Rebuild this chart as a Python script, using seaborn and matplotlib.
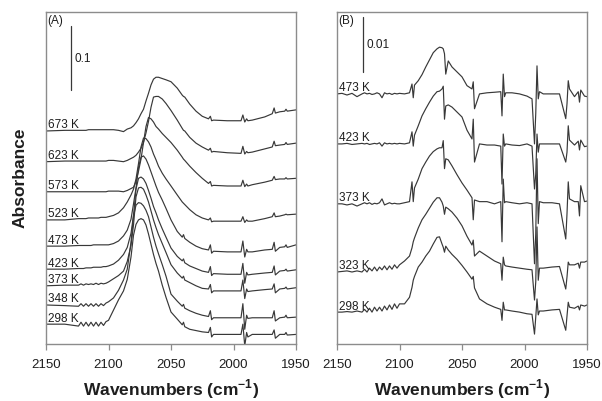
import matplotlib
matplotlib.use("Agg")
import matplotlib.pyplot as plt
import numpy as np
import pandas as pd
import seaborn as sns

# ---------------- data : panel (A) ----------------
WN_A = [2150, 2135, 2124, 2122, 2120, 2118, 2116, 2114, 2112, 2110, 2108, 2106, 2104, 2102,
        2100, 2096, 2092, 2088, 2085, 2082, 2080, 2078, 2076, 2074, 2072, 2070, 2068, 2066,
        2064, 2062, 2060, 2057, 2054, 2050, 2045, 2041, 2040, 2039, 2035, 2030, 2025, 2020,
        2018.5, 2017.5, 2016, 2005, 1994, 1992.5, 1991, 1989.5, 1988.5, 1985, 1975, 1969,
        1967.5, 1966.5, 1963, 1959, 1958, 1957, 1950]
TEMPS_A = ["673 K", "623 K", "573 K", "523 K", "473 K", "423 K", "373 K", "348 K", "298 K"]
OFFSET_A = [0.333, 0.285, 0.238, 0.194, 0.153, 0.117, 0.091, 0.061, 0.031]
A673 = [0, 0.001, 0.001, 0.001, 0.001, 0.001, 0.002, 0.002, 0.002, 0.002, 0.002, 0.002, 0.002, 0.002,
        0.002, 0.002, 0.001, -0.001, 0.003, 0.005, 0.008, 0.013, 0.019, 0.027, 0.034, 0.047, 0.059,
        0.072, 0.081, 0.084, 0.084, 0.082, 0.080, 0.077, 0.067, 0.056, 0.054, 0.053, 0.042, 0.031,
        0.023, 0.019, 0.023, 0.016, 0.017, 0.016, 0.016, 0.025, 0.014, 0.019, 0.016, 0.017, 0.022,
        0.027, 0.036, 0.028, 0.030, 0.031, 0.034, 0.031, 0.033]
A623 = [0, 0.001, 0.001, 0.001, 0.001, 0.001, 0.001, 0.001, 0.001, 0.001, 0.001, 0.001, 0.001, 0.001,
        0.002, 0.002, 0.001, 0, 0.002, 0.005, 0.007, 0.010, 0.015, 0.021, 0.030, 0.045, 0.063, 0.085,
        0.101, 0.102, 0.102, 0.098, 0.091, 0.080, 0.065, 0.052, 0.049, 0.048, 0.038, 0.029, 0.023,
        0.018, 0.021, 0.015, 0.016, 0.014, 0.013, 0.024, 0.012, 0.016, 0.014, 0.015, 0.020, 0.023,
        0.032, 0.025, 0.026, 0.027, 0.030, 0.027, 0.029]
A573 = [0, 0, 0, 0, 0, 0, 0, 0, 0, 0, 0, 0, 0, 0,
        0.001, 0.001, 0.001, 0, 0.002, 0.005, 0.007, 0.016, 0.032, 0.051, 0.077, 0.102, 0.116, 0.114,
        0.109, 0.102, 0.098, 0.091, 0.085, 0.077, 0.065, 0.054, 0.051, 0.049, 0.040, 0.030, 0.021,
        0.013, 0.016, 0.009, 0.010, 0.009, 0.009, 0.018, 0.008, 0.012, 0.009, 0.011, 0.015, 0.018,
        0.024, 0.019, 0.020, 0.020, 0.022, 0.020, 0.021]
A523 = [0, 0, 0.002, 0.002, 0.002, 0.002, 0.003, 0.003, 0.003, 0.003, 0.003, 0.004, 0.004, 0.004,
        0.005, 0.007, 0.011, 0.019, 0.028, 0.039, 0.048, 0.064, 0.088, 0.114, 0.128, 0.127, 0.122,
        0.114, 0.103, 0.094, 0.084, 0.073, 0.064, 0.053, 0.039, 0.028, 0.026, 0.024, 0.016, 0.008,
        0.003, 0, 0.003, -0.003, -0.002, -0.002, -0.002, 0.005, -0.004, 0, -0.002, -0.002, 0.002,
        0.005, 0.011, 0.005, 0.006, 0.008, 0.009, 0.008, 0.009]
A473 = [0, 0, 0.001, 0.001, 0.001, 0.001, 0.001, 0.001, 0.002, 0.002, 0.002, 0.002, 0.002, 0.002,
        0.002, 0.004, 0.008, 0.016, 0.025, 0.042, 0.066, 0.091, 0.123, 0.139, 0.141, 0.136, 0.127,
        0.116, 0.105, 0.094, 0.084, 0.072, 0.059, 0.041, 0.023, 0.014, 0.018, 0.012, 0.006, 0,
        -0.004, -0.006, 0.002, -0.011, -0.008, -0.009, -0.009, 0.008, -0.017, -0.005, -0.009, -0.009,
        -0.006, -0.005, 0.006, -0.008, -0.002, -0.001, 0.002, -0.002, 0.002]
A423 = [0, 0, 0.001, 0.001, 0.001, 0.002, 0.002, 0.002, 0.003, 0.003, 0.003, 0.003, 0.004, 0.004,
        0.005, 0.008, 0.014, 0.023, 0.034, 0.056, 0.084, 0.125, 0.142, 0.144, 0.141, 0.134, 0.123,
        0.111, 0.098, 0.088, 0.077, 0.063, 0.050, 0.033, 0.020, 0.013, 0.016, 0.010, 0.005, 0.001,
        -0.003, -0.005, 0.004, -0.010, -0.007, -0.008, -0.008, 0.009, -0.022, -0.005, -0.009, -0.008,
        -0.006, -0.005, 0.005, -0.009, -0.003, -0.002, 0, -0.003, -0.001]
A373 = [0, 0.001, 0.001, 0.003, 0.001, 0.003, 0.002, 0.003, 0.002, 0.004, 0.002, 0.004, 0.003, 0.004,
        0.006, 0.011, 0.016, 0.023, 0.038, 0.063, 0.095, 0.139, 0.153, 0.154, 0.151, 0.142, 0.131,
        0.117, 0.103, 0.091, 0.080, 0.066, 0.052, 0.033, 0.020, 0.012, 0.015, 0.009, 0.005, 0,
        -0.004, -0.005, 0.002, -0.011, -0.008, -0.008, -0.008, 0.009, -0.020, -0.005, -0.009, -0.008,
        -0.006, -0.005, 0.003, -0.011, -0.005, -0.004, -0.002, -0.005, -0.003]
A348 = [0, -0.001, -0.002, 0.002, -0.002, 0.002, -0.002, 0.002, -0.002, 0.002, -0.002, 0.002, -0.001, 0.003,
        0.005, 0.011, 0.023, 0.039, 0.056, 0.098, 0.139, 0.156, 0.160, 0.159, 0.155, 0.148, 0.138,
        0.122, 0.106, 0.092, 0.080, 0.063, 0.045, 0.017, 0.006, -0.002, 0.001, -0.005, -0.009, -0.013,
        -0.016, -0.018, -0.009, -0.023, -0.020, -0.020, -0.020, 0.002, -0.038, -0.016, -0.021, -0.020,
        -0.020, -0.020, -0.009, -0.025, -0.020, -0.019, -0.016, -0.020, -0.019]
A298 = [0, 0, -0.003, 0.003, -0.003, 0.003, -0.003, 0.003, -0.003, 0.003, -0.003, 0.003, -0.002, 0.004,
        0.006, 0.022, 0.038, 0.052, 0.070, 0.105, 0.139, 0.156, 0.163, 0.165, 0.163, 0.155, 0.141,
        0.125, 0.109, 0.095, 0.083, 0.061, 0.042, 0.019, 0.008, -0.001, 0.003, -0.004, -0.008, -0.010,
        -0.012, -0.013, -0.005, -0.020, -0.016, -0.016, -0.016, 0, -0.034, -0.013, -0.020, -0.016,
        -0.016, -0.016, -0.009, -0.022, -0.016, -0.016, -0.013, -0.017, -0.016]
SCALE_A = 0.1

# ---------------- data : panel (B) ----------------
WN_B = [2150, 2146, 2142, 2138, 2134, 2130, 2128, 2126, 2124, 2122, 2120, 2118, 2116, 2114, 2112,
        2110, 2108, 2106, 2104, 2102, 2100, 2096, 2092, 2090, 2089, 2088, 2085, 2082, 2079, 2076,
        2073, 2070, 2068, 2066, 2065, 2064, 2063, 2061, 2058, 2054, 2050, 2046, 2042, 2041, 2040,
        2036, 2030, 2024, 2019, 2018, 2017, 2016, 2015, 2010, 2004, 1998, 1994, 1992, 1991, 1990,
        1989, 1988, 1985, 1978, 1972, 1967, 1966, 1965, 1964, 1960, 1957, 1956, 1955, 1952, 1950]
TEMPS_B = ["473 K", "423 K", "373 K", "323 K", "298 K"]
OFFSET_B = [0.0455, 0.0364, 0.0255, 0.0131, 0.0058]
B473 = [0, 0.0001, -0.0002, 0.0001, -0.0005, 0, 0.0002, 0, 0.0001, -0.0001, 0, 0.0002, 0, -0.0007, 0.0002,
        0, 0.0001, -0.0001, 0.0001, 0, 0.0001, 0, 0.0002, 0.0018, -0.0007, 0.0016, 0.0024, 0.0035, 0.0049, 0.0062,
        0.0075, 0.0082, 0.0085, 0.0084, 0.0082, 0.0073, 0.0036, 0.0060, 0.0049, 0.0040, 0.0031, 0.0015, 0.0009, 0.0022, -0.0027,
        0, 0.0002, 0.0003, 0.0004, -0.0040, 0.0036, -0.0005, 0.0002, 0.0002, 0, -0.0004, -0.0009, -0.0091, -0.0036, 0.0051,
        -0.0009, 0.0004, 0, 0, 0, -0.0045, -0.0018, 0.0024, 0.0009, -0.0005, 0.0004, -0.0015, 0.0007, -0.0004, -0.0005]
B423 = [0, 0, 0.0001, -0.0001, 0, 0.0001, 0, 0.0001, -0.0001, 0, 0.0001, 0, 0.0002, -0.0004, 0.0002,
        0, 0.0001, 0, 0.0001, 0, 0.0001, 0, 0.0002, 0.0022, -0.0004, 0.0016, 0.0033, 0.0051, 0.0064, 0.0076,
        0.0087, 0.0095, 0.0096, 0.0100, 0.0105, 0.0045, 0.0069, 0.0071, 0.0067, 0.0058, 0.0049, 0.0025, 0.0009, 0.0045, -0.0033,
        0, -0.0002, -0.0002, -0.0004, -0.0073, 0.0018, -0.0004, 0, -0.0002, -0.0003, 0, -0.0004, -0.0082, -0.0055, 0.0018,
        -0.0015, 0, 0, 0, 0, -0.0033, -0.0015, 0.0033, 0.0007, -0.0002, 0.0005, -0.0011, 0.0007, -0.0005, -0.0004]
B373 = [0, 0, -0.0002, 0, -0.0004, 0, 0.0002, 0, 0.0002, -0.0001, 0.0001, 0, 0.0002, 0.0009, -0.0002,
        0, 0.0002, 0, 0.0001, 0, 0, 0.0002, 0.0004, 0.0040, 0.0004, 0.0029, 0.0045, 0.0064, 0.0076, 0.0087,
        0.0095, 0.0100, 0.0102, 0.0102, 0.0115, 0.0064, 0.0082, 0.0080, 0.0069, 0.0053, 0.0038, 0.0025, 0.0011, -0.0029, 0.0007,
        0.0004, 0.0004, 0, 0.0004, -0.0069, 0.0045, 0.0002, 0.0004, 0.0002, 0, 0.0002, 0, -0.0109, -0.0055, 0.0082,
        -0.0036, 0.0004, 0.0002, 0.0002, 0, -0.0064, -0.0018, 0.0040, 0.0009, 0.0004, 0.0004, -0.0022, 0.0033, 0.0004, 0.0005]
B323 = [0, 0.0001, 0.0002, 0, 0.0002, 0, 0.0005, 0, 0.0007, 0.0002, 0.0009, 0.0002, 0.0009, 0.0004, 0.0011,
        0.0004, 0.0011, 0.0005, 0.0013, 0.0007, 0.0013, 0.0020, 0.0029, 0.0044, 0.0055, 0.0062, 0.0080, 0.0095, 0.0105, 0.0116,
        0.0127, 0.0135, 0.0135, 0.0127, 0.0120, 0.0105, 0.0118, 0.0115, 0.0109, 0.0098, 0.0084, 0.0065, 0.0049, 0.0058, 0.0029,
        0.0038, 0.0029, 0.0020, 0.0015, -0.0015, 0.0027, 0.0013, 0.0011, 0.0009, 0.0007, 0.0005, 0.0004, -0.0051, -0.0018, 0.0082,
        -0.0015, 0.0007, 0.0007, 0.0009, 0.0010, -0.0031, -0.0009, 0.0018, 0.0013, 0.0013, 0.0016, 0.0007, 0.0018, 0.0018, 0.0020]
B298 = [0, 0, 0.0001, 0, 0.0002, 0, 0.0005, 0, 0.0007, 0, 0.0009, 0.0002, 0.0009, 0.0002, 0.0011,
        0.0004, 0.0013, 0.0005, 0.0015, 0.0007, 0.0015, 0.0015, 0.0027, 0.0045, 0.0058, 0.0065, 0.0082, 0.0091, 0.0102, 0.0111,
        0.0124, 0.0136, 0.0137, 0.0124, 0.0118, 0.0109, 0.0120, 0.0113, 0.0105, 0.0096, 0.0085, 0.0073, 0.0060, 0.0065, 0.0044,
        0.0024, 0.0015, 0.0009, 0.0005, -0.0015, 0.0018, 0.0004, 0.0004, 0.0002, 0, -0.0003, -0.0004, -0.0040, -0.0009, 0.0024,
        -0.0005, 0.0002, 0.0002, 0.0004, 0.0005, -0.0033, -0.0007, 0.0018, 0.0009, 0.0007, 0.0011, 0.0004, 0.0013, 0.0011, 0.0013]
SCALE_B = 0.01

XTICKS = [2150, 2100, 2050, 2000, 1950]

# ---------------- styling ----------------
sns.set_style("white")
plt.rcParams["font.family"] = ["Liberation Sans", "DejaVu Sans"]
plt.rcParams["mathtext.fontset"] = "custom"
plt.rcParams["mathtext.rm"] = "Liberation Sans"
plt.rcParams["mathtext.bf"] = "Liberation Sans:bold"

LINE = "#383838"
SPINE = "#8c8c8c"
TEXT = "#1e1e1e"

W, H = 602, 402
fig = plt.figure(figsize=(W / 100, H / 100), dpi=100)
axA = fig.add_axes([46 / W, 57 / H, 250 / W, 332 / H])
axB = fig.add_axes([337 / W, 57 / H, 250 / W, 332 / H])


def long_frame(wn, temps, offsets, curves):
    parts = []
    for t, off, c in zip(temps, offsets, curves):
        parts.append(pd.DataFrame({"wavenumber": wn,
                                   "absorbance": np.asarray(c, dtype=float) + off,
                                   "temperature": t}))
    return pd.concat(parts, ignore_index=True)


dfA = long_frame(WN_A, TEMPS_A, OFFSET_A,
                 [A673, A623, A573, A523, A473, A423, A373, A348, A298])
dfB = long_frame(WN_B, TEMPS_B, OFFSET_B, [B473, B423, B373, B323, B298])

panels = [
    (axA, dfA, TEMPS_A, OFFSET_A, (0, 0.519), SCALE_A, "0.1", 2130, 0.397, "(A)"),
    (axB, dfB, TEMPS_B, OFFSET_B, (0, 0.0604), SCALE_B, "0.01", 2129.2, 0.0495, "(B)"),
]

for ax, df, temps, offs, ylim, scale, scale_txt, bar_x, bar_y0, tag in panels:
    sns.lineplot(data=df, x="wavenumber", y="absorbance", hue="temperature",
                 palette={t: LINE for t in temps}, estimator=None, sort=False,
                 legend=False, linewidth=0.85, ax=ax)
    ax.set_xlim(2150, 1950)
    ax.set_ylim(*ylim)
    ax.set_xticks(XTICKS)
    ax.set_xticklabels([str(v) for v in XTICKS])
    ax.set_yticks([])
    ax.set_xlabel("")
    ax.set_ylabel("")
    for s in ax.spines.values():
        s.set_visible(True)
        s.set_color(SPINE)
        s.set_linewidth(1.0)
    ax.tick_params(axis="x", direction="out", length=4, width=0.9, color=SPINE,
                   labelsize=9.5, pad=6, labelcolor=TEXT, bottom=True, top=False)

    # scale bar
    ax.plot([bar_x, bar_x], [bar_y0, bar_y0 + scale], color=LINE, linewidth=0.9)
    ax.text(bar_x - 2.8, bar_y0 + scale / 2, scale_txt, ha="left", va="center",
            fontsize=8.5, color=TEXT)
    ax.text(0.004, 0.993, tag, transform=ax.transAxes, ha="left", va="top",
            fontsize=8.5, color=TEXT)

    # curve labels
    for t, off in zip(temps, offs):
        ax.annotate(t, xy=(2150, off), xytext=(1.2, 2.6), textcoords="offset points",
                    ha="left", va="baseline", fontsize=8.5, color=TEXT)

    ax.text(0.5, -(389 - 345) / 332, "Wavenumbers (cm$^{\\mathbf{-1}}$)",
            transform=ax.transAxes, ha="center", va="center",
            fontsize=12.5, fontweight="bold", color=TEXT)

fig.text(20 / W, 1 - 178 / H, "Absorbance", rotation=90, ha="center", va="center",
         fontsize=12.5, fontweight="bold", color=TEXT)

fig.savefig("out.png", dpi=100, facecolor="white")
